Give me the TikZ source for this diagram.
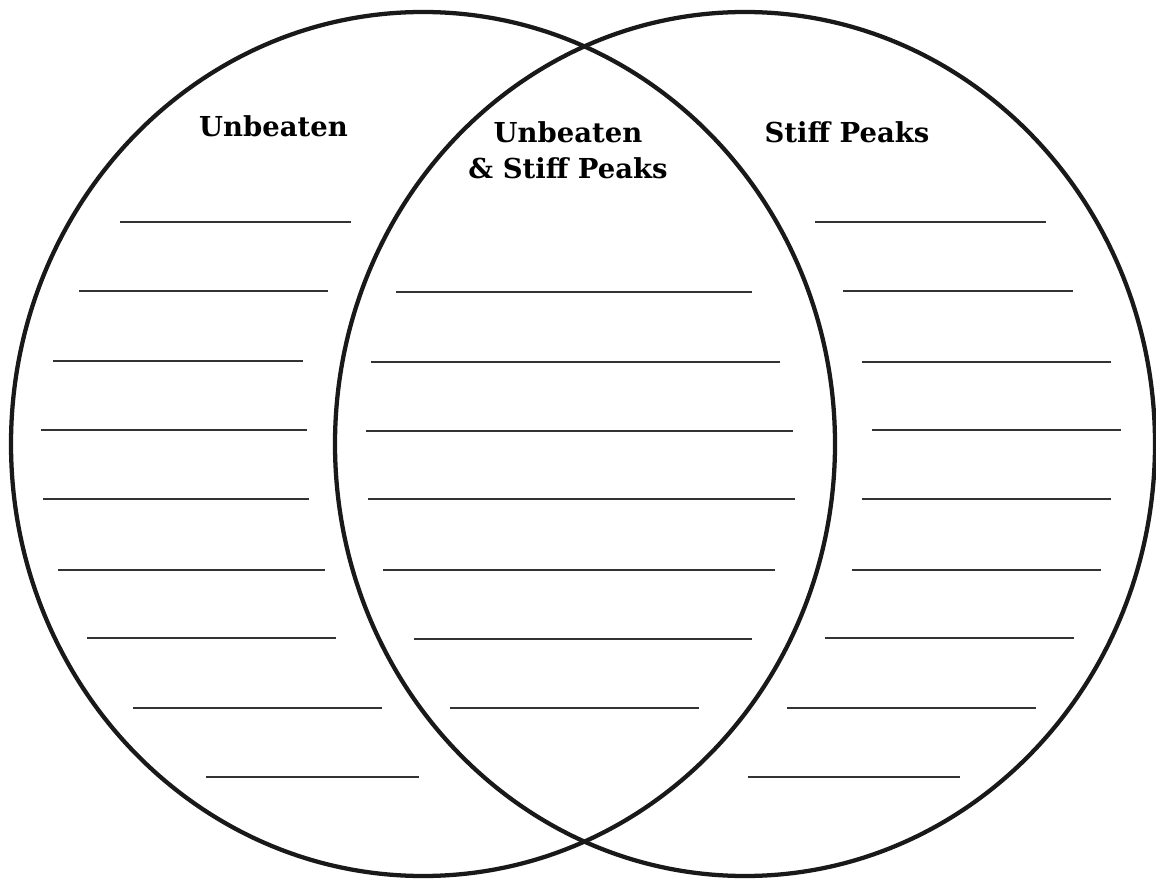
\documentclass[tikz,border=0pt]{standalone}
\usepackage{fontspec}
\setmainfont{DejaVu Serif}
\begin{document}
\begin{tikzpicture}[x=0.75pt,y=-0.75pt,
  ring/.style={draw=black!90, line width=3.2pt},
  blank/.style={draw=black!80, line width=1.4pt},
  title/.style={font=\bfseries\fontsize{20.6}{27}\selectfont, inner sep=0pt, anchor=base, align=center}]
\useasboundingbox (0,0) rectangle (1156,880);
\fill[white] (0,0) rectangle (1156,880);
% circles
\draw[ring] (423,444) ellipse [x radius=412, y radius=432];
\draw[ring] (745,444) ellipse [x radius=410, y radius=432];
% titles
\node[title] (tl) at (273.5,137) {Unbeaten};
\node[title] (tm1) at (568,143) {Unbeaten};
\node[title] (tm2) at (568,179) {\& Stiff Peaks};
\node[title] (tr) at (847,143) {Stiff Peaks};
% left blanks
\foreach \a/\b/\y in {120/351/222, 79/328/291, 53/303/361, 41/307/430, 43/309/499, 58/325/570, 87/336/638, 133/382/708, 206/419/777}
  \draw[blank] (\a,\y) -- (\b,\y);
% middle blanks
\foreach \a/\b/\y in {396/752/292, 371/780/362, 366/793/431, 368/795/499, 383/775/570, 414/752/639, 450/699/708}
  \draw[blank] (\a,\y) -- (\b,\y);
% right blanks
\foreach \a/\b/\y in {815/1046/222, 843/1073/291, 862/1111/362, 872/1121/430, 862/1111/499, 852/1101/570, 825/1074/638, 787/1036/708, 748/960/777}
  \draw[blank] (\a,\y) -- (\b,\y);
\end{tikzpicture}
\end{document}
